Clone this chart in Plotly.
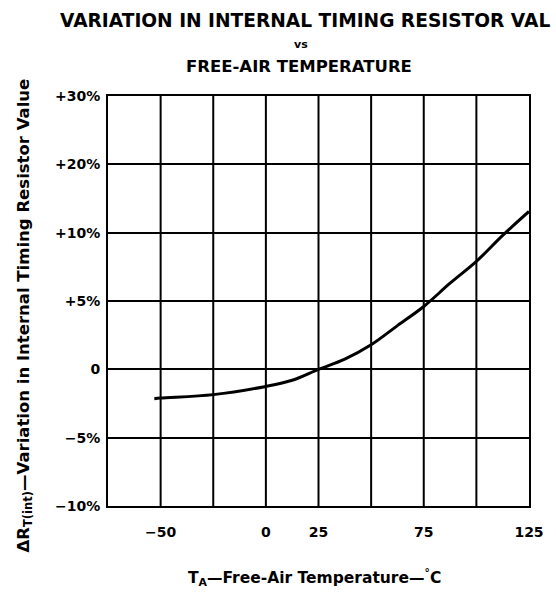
import numpy as np
import plotly.graph_objects as go

# Data
temp_c = [-53, -50, -25, 0, 12.5, 25, 37.5, 50, 62.5, 75, 87.5, 100, 112.5, 125]
delta_pct = [-2.15, -2.1, -1.85, -1.25, -0.8, 0.0, 0.75, 1.8, 3.2, 4.6, 6.3, 7.9, 9.8, 13.1]

# Non-uniform y scale of the chart (grid rows are equally spaced)
y_tick_values = [-10, -5, 0, 5, 10, 20, 30]
y_tick_labels = ["\u221210%", "\u22125%", "0", "+5%", "+10%", "+20%", "+30%"]
x_tick_values = [-50, 0, 25, 75, 125]
x_tick_labels = ["\u221250", "0", "25", "75", "125"]
x_grid_values = [-50, -25, 0, 25, 50, 75, 100]

y_pos = list(range(len(y_tick_values)))
curve_y = np.interp(delta_pct, y_tick_values, y_pos)

FONT = "DejaVu Sans, Liberation Sans, Arial, sans-serif"

fig = go.Figure()
fig.add_trace(go.Scatter(x=temp_c, y=curve_y, mode="lines",
                         line=dict(color="black", width=3, shape="spline"),
                         hoverinfo="skip", showlegend=False))

L, R, T, B = 108, 19, 96, 89
W, H = 556, 595
pw, ph = W - L - R, H - T - B

fig.update_layout(
    width=W, height=H,
    margin=dict(l=L, r=R, t=T, b=B),
    paper_bgcolor="white", plot_bgcolor="white",
    font=dict(family=FONT, color="black"),
    xaxis=dict(range=[-75, 125], tickmode="array",
               tickvals=x_tick_values, ticktext=x_tick_labels,
               showgrid=False, zeroline=False,
               showline=True, linecolor="black", linewidth=2, mirror=True,
               ticks="", tickfont=dict(size=14, family=FONT, weight="bold"),
               ticklabelstandoff=12),
    yaxis=dict(range=[0, 6], tickmode="array",
               tickvals=y_pos, ticktext=y_tick_labels,
               showgrid=True, gridcolor="black", gridwidth=2, zeroline=False,
               showline=True, linecolor="black", linewidth=2, mirror=True,
               ticks="", tickfont=dict(size=14, family=FONT, weight="bold"),
               ticklabelstandoff=3),
)

for xv in x_grid_values:
    fig.add_shape(type="line", x0=xv, x1=xv, y0=0, y1=1, xref="x", yref="paper",
                  line=dict(color="black", width=2), layer="below")

def px(x):
    return (x - L) / pw

def py(y):
    return (H - B - y) / ph

ann = []
ann.append(dict(text="VARIATION IN INTERNAL TIMING RESISTOR VAL", x=px(57), y=py(20),
                xanchor="left", yanchor="middle", font=dict(size=18.6, weight="bold")))
ann.append(dict(text="vs", x=px(305), y=py(45), xanchor="center", yanchor="middle",
                font=dict(size=11, weight="bold")))
ann.append(dict(text="FREE-AIR TEMPERATURE", x=px(303), y=py(67), xanchor="center",
                yanchor="middle", font=dict(size=16.5, weight="bold")))
ann.append(dict(text="T<sub>A</sub>\u2014Free-Air Temperature\u2014<sup>\u00b0</sup>C",
                x=px(318), y=py(577), xanchor="center", yanchor="middle",
                font=dict(size=15.5, weight="bold")))
ann.append(dict(text="\u0394R<sub>T(int)</sub>\u2014Variation in Internal Timing Resistor Value",
                x=px(22), y=py(316), xanchor="center", yanchor="middle", textangle=-90,
                font=dict(size=16.5, weight="bold")))
for a in ann:
    a.update(xref="paper", yref="paper", showarrow=False)
    a["font"]["family"] = FONT
    a["font"]["color"] = "black"
fig.update_layout(annotations=ann)

fig.write_html("out.html", config={"displayModeBar": False},
               post_script="document.body.style.margin='0';document.body.style.overflow='hidden';")
